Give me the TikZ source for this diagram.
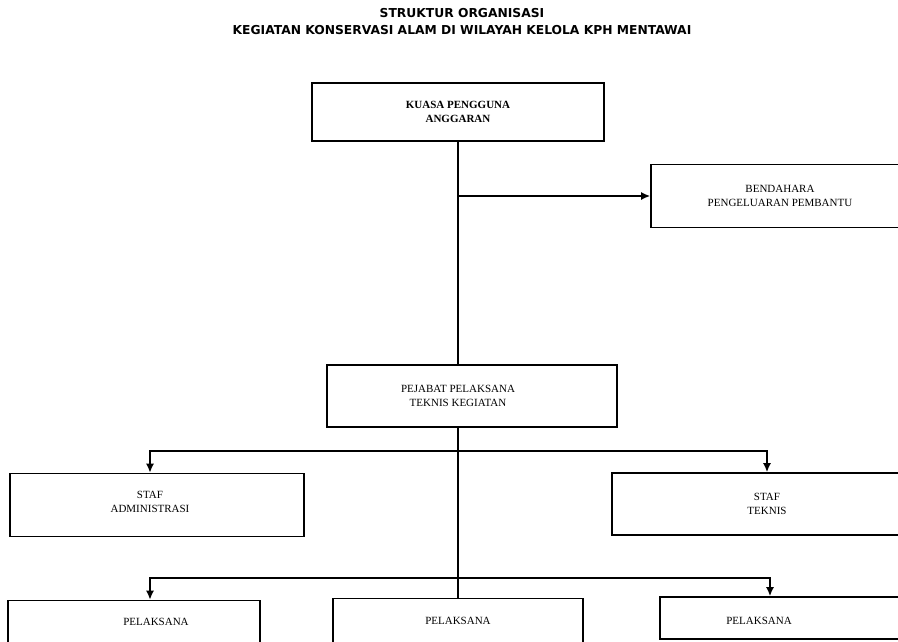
\documentclass[tikz,border=0pt]{standalone}
\usepackage{fontspec}
\setmainfont{Liberation Serif}
\newfontfamily\titlefont{DejaVu Sans}
\usetikzlibrary{arrows.meta}
\tikzset{
  unit/.style={
    rectangle, draw, line width=1.6pt, inner sep=0pt,
    align=center, font=\fontsize{11}{14}\selectfont
  },
  tag/.style={align=center, font=\fontsize{11}{14}\selectfont},
  conn/.style={line width=1.6pt},
  arr/.style={conn, -{Latex[length=9pt,width=8pt]}},
  heading/.style={align=center, font=\titlefont\bfseries\fontsize{12.3}{17}\selectfont},
}

\begin{document}
\begin{tikzpicture}[x=1pt, y=-1pt]
  \path[use as bounding box, clip] (0,0) rectangle (898,641);

  \node[heading] (title) at (462,22) {STRUKTUR ORGANISASI\\KEGIATAN KONSERVASI ALAM DI WILAYAH KELOLA KPH MENTAWAI};

  \node[unit, minimum width=292pt, minimum height=58pt, font=\fontsize{11}{14}\selectfont\bfseries] (kpa) at (458,112) {KUASA PENGGUNA\\ANGGARAN};
  \node[unit, minimum width=258pt, minimum height=63pt] (bendahara) at (780,196) {BENDAHARA\\PENGELUARAN PEMBANTU};
  \node[unit, minimum width=290pt, minimum height=62pt, label={[tag, xshift=-14pt]center:PEJABAT PELAKSANA\\TEKNIS KEGIATAN}] (pptk) at (472,396) {};
  \node[unit, minimum width=294pt, minimum height=63pt, label={[tag, xshift=-7pt, yshift=3pt]center:STAF\\ADMINISTRASI}] (stafadm) at (157,505) {};
  \node[unit, minimum width=310pt, minimum height=62pt] (stafteknis) at (767,504) {STAF\\TEKNIS};
  \node[unit, minimum width=252pt, minimum height=45pt, label={[tag, xshift=22pt, yshift=1pt]center:PELAKSANA}] (pel1) at (134,623) {};
  \node[unit, minimum width=250pt, minimum height=45pt] (pel2) at (458,621) {PELAKSANA};
  \node[unit, minimum width=250pt, minimum height=42pt, label={[tag, xshift=-26pt, yshift=-3pt]center:PELAKSANA}] (pel3) at (785,618) {};

  \coordinate (split1) at (kpa.south |- bendahara.west);
  \coordinate (split2) at (458,451);
  \coordinate (split3) at (458,578);

  \draw[conn] (kpa.south) -- (kpa.south |- pptk.north);
  \draw[arr] (split1) -- (bendahara.west);
  \draw[conn] (kpa.south |- pptk.south) -- (pel2.north);
  \draw[arr] (split2) -| ([xshift=-7pt]stafadm.north);
  \draw[arr] (split2) -| (stafteknis.north);
  \draw[arr] (split3) -| ([xshift=16pt]pel1.north);
  \draw[arr] (split3) -| ([xshift=-15pt]pel3.north);
\end{tikzpicture}
\end{document}
